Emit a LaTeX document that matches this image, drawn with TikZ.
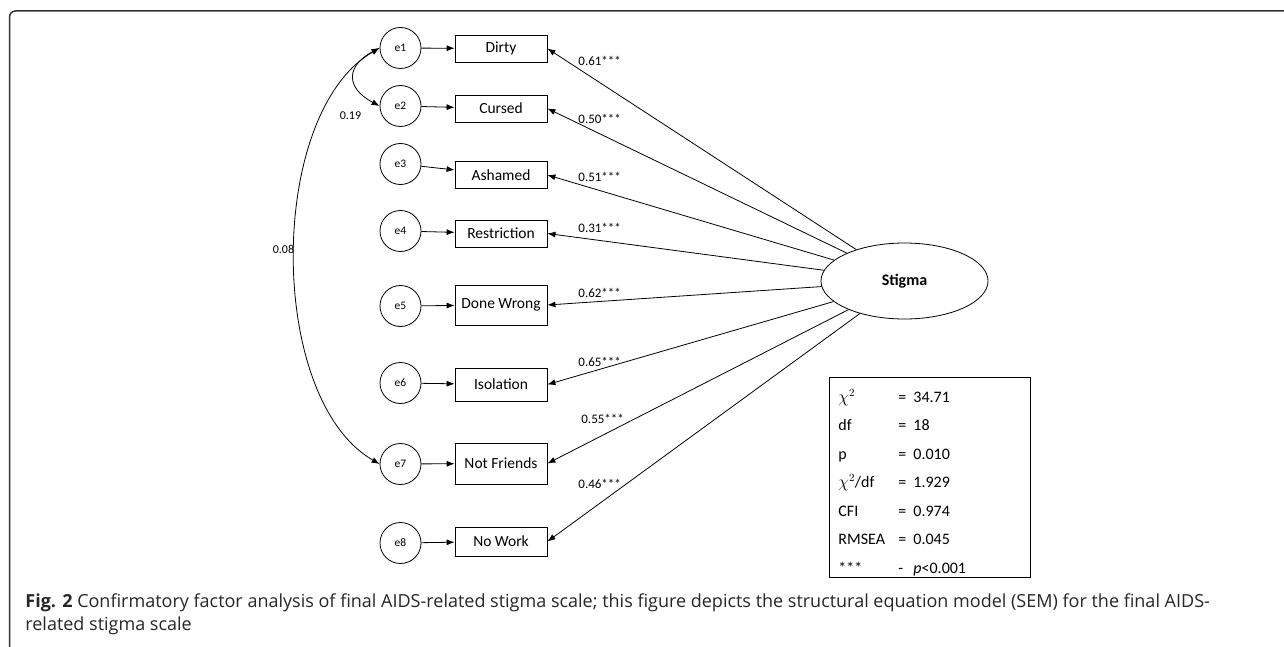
\documentclass[tikz,border=0pt]{standalone}
\usepackage{fontspec}
\setmainfont{Carlito}
\newfontfamily\capfont{Open Sans}
\usepackage{tikz}
\usetikzlibrary{positioning,arrows.meta,shapes.geometric}

\begin{document}
\begin{tikzpicture}[x=1pt,y=-1pt,line width=0.8pt,
  err/.style={draw,circle,minimum size=41pt,inner sep=0pt,font=\fontsize{11.5}{13}\selectfont},
  item/.style={draw,minimum width=92pt,minimum height=27pt,inner sep=2pt,font=\fontsize{15.5}{17}\selectfont},
  load/.style={anchor=west,inner sep=0pt,font=\fontsize{13}{15}\selectfont},
  corr/.style={inner sep=0pt,font=\fontsize{12}{14}\selectfont},
  arr/.style={-{Latex[length=8pt,width=6pt]}},
  cov/.style={{Latex[length=8pt,width=6pt]}-{Latex[length=8pt,width=6pt]}}]
\useasboundingbox (0,0) rectangle (1284,647);
\draw[line width=1.5pt,draw=black!80,rounded corners=6pt] (9.5,650) -- (9.5,11) -- (1300,11);
\node[item] (dirty) at (501,48.5) {Dirty};
\node[item] (cursed) at (501,108.5) {Cursed};
\node[item] (ashamed) at (501,175) {Ashamed};
\node[item] (restr) at (501,233.5) {Restriction};
\node[item,minimum height=40pt] (wrong) at (501,305) {Done Wrong};
\node[item,minimum height=33pt] (isol) at (501,384.5) {Isolation};
\node[item,minimum height=41pt] (friends) at (501,463.5) {Not Friends};
\node[item,minimum height=29pt] (work) at (501,541.5) {No Work};
\node[err] (e1) at (400.5,48) {e1};
\node[err] (e2) at (400.5,106) {e2};
\node[err] (e3) at (400.5,164) {e3};
\node[err] (e4) at (400.5,231) {e4};
\node[err] (e5) at (400.5,306) {e5};
\node[err] (e6) at (400.5,383) {e6};
\node[err] (e7) at (400.5,464) {e7};
\node[err] (e8) at (400.5,543) {e8};
\node[draw,ellipse,minimum width=167pt,minimum height=76pt,inner sep=0pt,
  font=\bfseries\fontsize{16}{18}\selectfont] (stigma) at (904.5,281) {Stigma};
\draw[arr] (e1) -- (dirty);
\draw[arr] (e2) -- (cursed);
\draw[arr] (e3) -- (ashamed);
\draw[arr] (e4) -- (restr);
\draw[arr] (e5) -- (wrong);
\draw[arr] (e6) -- (isol);
\draw[arr] (e7) -- (friends);
\draw[arr] (e8) -- (work);
\draw[arr] (stigma) -- (dirty.east);
\draw[arr] (stigma) -- (cursed.east);
\draw[arr] (stigma) -- (ashamed.east);
\draw[arr] (stigma) -- (restr.east);
\draw[arr] (stigma) -- (wrong.east);
\draw[arr] (stigma) -- (isol.east);
\draw[arr] (stigma) -- (friends.east);
\draw[arr] (stigma) -- (work.east);
\node[load] (l1) at (578,61) {0.61***};
\node[load] (l2) at (578,119) {0.50***};
\node[load] (l3) at (578,177) {0.51***};
\node[load] (l4) at (578,228) {0.31***};
\node[load] (l5) at (578,293) {0.62***};
\node[load] (l6) at (578,362) {0.65***};
\node[load] (l7) at (581,419) {0.55***};
\node[load] (l8) at (578,484) {0.46***};
\draw[cov] (e1.west) .. controls +(-34,18) and +(-34,-18) .. (e2.west);
\draw[cov] (e1.west) .. controls +(-113,65) and +(-113,-65) .. (e7.west);
\node[corr] (c12) at (350.5,116) {0.19};
\node[corr] (c17) at (283.5,249) {0.08};
\node[draw,anchor=north west,inner xsep=9pt,inner ysep=0pt,text width=183pt,
  text height=25pt,text depth=175pt,align=left,font=\fontsize{16}{28.5}\selectfont] (fit) at (829,377)
  {\begin{tabular}[t]{@{}p{60pt}@{}p{15pt}@{}l@{}}
   $\chi^2$ & = & 34.71\\
   df & = & 18\\
   p & = & 0.010\\
   $\chi^2$/df & = & 1.929\\
   CFI & = & 0.974\\
   RMSEA & = & 0.045\\
   {***} & - & \textit{p}<0.001
   \end{tabular}};
\node[anchor=north west,inner sep=0pt,align=left,text=black!85,
  font=\capfont\fontsize{18}{23}\selectfont] (cap) at (25,593)
  {\textbf{Fig. 2} Confirmatory factor analysis of final AIDS-related stigma scale; this figure depicts the structural equation model (SEM) for the final AIDS-\\related stigma scale};
\end{tikzpicture}
\end{document}
